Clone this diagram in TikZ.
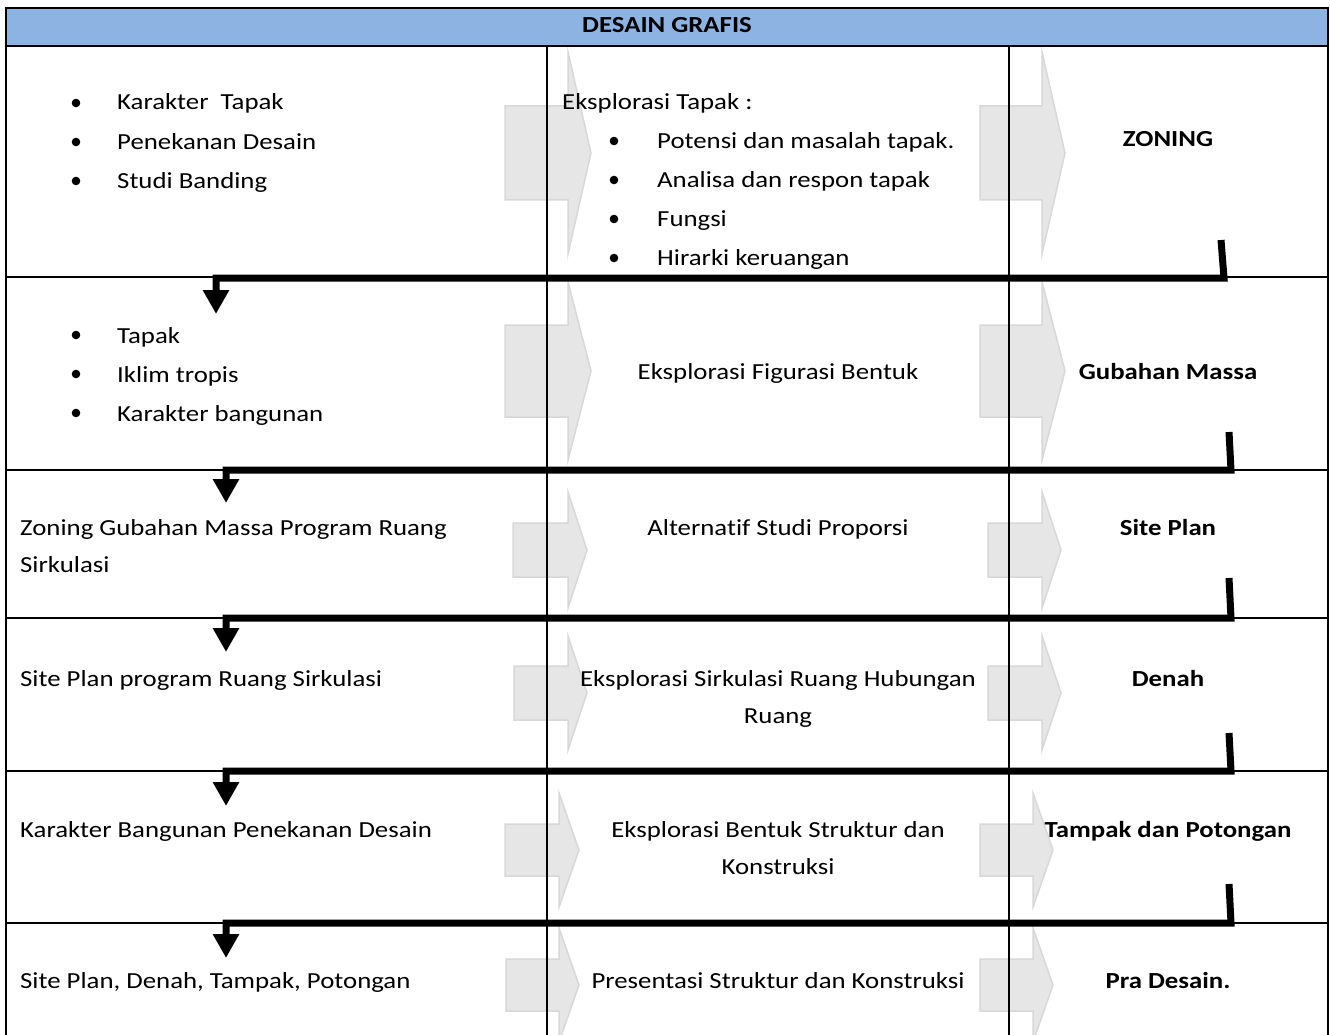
\documentclass[tikz,border=0pt]{standalone}
\usepackage{fontspec}
\setmainfont{Carlito}[FakeStretch=1.165,Ligatures={NoCommon}]
\usetikzlibrary{arrows.meta}
\definecolor{hdr}{HTML}{8DB3E2}
\definecolor{garfill}{HTML}{E6E6E6}
\definecolor{garline}{HTML}{D8D8D8}
% block arrow: #1 body left, #2 head base, #3 tip x, #4 centre y, #5 body half height, #6 head half height
\newcommand\garrow[6]{%
  \draw[garr] (#1,{#4-#5}) -- (#2,{#4-#5}) -- (#2,{#4-#6}) -- (#3,#4) -- (#2,{#4+#6}) -- (#2,{#4+#5}) -- (#1,{#4+#5}) -- cycle;}
\begin{document}
\begin{tikzpicture}[x=1pt,y=-1pt,
  garr/.style={fill=garfill,draw=garline,line width=1.5pt,line join=miter},
  grid/.style={line width=1.8pt,black},
  outer/.style={line width=2.4pt,black},
  conn/.style={line width=7pt,line join=miter,-{Triangle[width=25pt,length=24pt]}},
  txt/.style={inner sep=0pt,anchor=base west,font=\fontsize{23}{28}\selectfont},
  ctr/.style={inner sep=0pt,anchor=base,font=\fontsize{23}{28}\selectfont},
  ctrb/.style={inner sep=0pt,anchor=base,font=\fontsize{23}{28}\selectfont\bfseries},
  bul/.style={fill=black}]
\useasboundingbox (0,0) rectangle (1330,1035);
\fill[white] (0,0) rectangle (1330,1035);

% gray block arrows
\garrow{505}{568}{591}{153}{47}{101}
\garrow{980}{1042}{1065}{153}{47}{101}
\garrow{505}{568}{591}{371}{46}{89}
\garrow{980}{1042}{1065}{371}{46}{89}
\garrow{513}{568}{587}{550}{27}{58}
\garrow{988}{1042}{1061}{550}{27}{58}
\garrow{514}{568}{587}{693}{27}{57}
\garrow{988}{1042}{1061}{693}{27}{57}
\garrow{505}{559}{579}{850}{26}{57}
\garrow{980}{1033}{1053}{850}{26}{57}
\garrow{506}{559}{579}{985}{26}{57}
\garrow{980}{1033}{1053}{985}{26}{57}

% header
\fill[hdr] (6,8) rectangle (1328,46);
\node[ctrb] (head) at (667,33) {DESAIN GRAFIS};

% table lines
\draw[grid] (6,46) -- (1328,46);
\foreach \yy in {277,470,618,771,923} \draw[grid] (6,\yy) -- (1328,\yy);
\draw[grid] (547,46) -- (547,1035);
\draw[grid] (1009,46) -- (1009,1035);
\draw[outer] (6,1035) -- (6,8) -- (1328,8) -- (1328,1035);

% connectors
\coordinate (c1a) at (1221,240); \coordinate (c1b) at (1224,278);
\coordinate (c1c) at (216,278);  \coordinate (c1d) at (216,314);
\coordinate (c2a) at (1229,432); \coordinate (c2b) at (1231,470);
\coordinate (c2c) at (226,470);  \coordinate (c2d) at (226,503);
\coordinate (c3a) at (1229,578); \coordinate (c3b) at (1231,618);
\coordinate (c3c) at (226,618);  \coordinate (c3d) at (226,652);
\coordinate (c4a) at (1229,733); \coordinate (c4b) at (1231,771);
\coordinate (c4c) at (226,771);  \coordinate (c4d) at (226,806);
\coordinate (c5a) at (1229,884); \coordinate (c5b) at (1231,923);
\coordinate (c5c) at (226,923);  \coordinate (c5d) at (226,958);
\foreach \i in {1,...,5} \draw[conn] (c\i a) -- (c\i b) -- (c\i c) -- (c\i d);

% row 1
\fill[bul] (76,103) circle (4.3pt);
\fill[bul] (76,142) circle (4.3pt);
\fill[bul] (76,181) circle (4.3pt);
\node[txt] (r1a) at (117,110) {Karakter\ \ Tapak};
\node[txt] (r1b) at (117,150) {Penekanan Desain};
\node[txt] (r1c) at (117,189) {Studi Banding};
\node[txt] (r1d) at (562,110) {Eksplorasi Tapak :};
\fill[bul] (614,141) circle (4.3pt);
\fill[bul] (614,180) circle (4.3pt);
\fill[bul] (614,219) circle (4.3pt);
\fill[bul] (614,258) circle (4.3pt);
\node[txt] (r1e) at (657,149) {Potensi dan masalah tapak.};
\node[txt] (r1f) at (657,188) {Analisa dan respon tapak};
\node[txt] (r1g) at (657,226) {Fungsi};
\node[txt] (r1h) at (657,265) {Hirarki keruangan};
\node[ctrb] (r1i) at (1168,147) {ZONING};

% row 2
\fill[bul] (76,335) circle (4.3pt);
\fill[bul] (76,374) circle (4.3pt);
\fill[bul] (76,413) circle (4.3pt);
\node[txt] (r2a) at (117,343) {Tapak};
\node[txt] (r2b) at (117,382) {Iklim tropis};
\node[txt] (r2c) at (117,421) {Karakter bangunan};
\node[ctr] (r2d) at (778,379) {Eksplorasi Figurasi Bentuk};
\node[ctrb] (r2e) at (1168,379) {Gubahan Massa};

% row 3
\node[txt] (r3a) at (20,535) {Zoning Gubahan Massa Program Ruang};
\node[txt] (r3b) at (20,572) {Sirkulasi};
\node[ctr] (r3c) at (778,535) {Alternatif Studi Proporsi};
\node[ctrb] (r3d) at (1168,535) {Site Plan};

% row 4
\node[txt] (r4a) at (20,686) {Site Plan program Ruang Sirkulasi};
\node[ctr] (r4b) at (778,686) {Eksplorasi Sirkulasi Ruang Hubungan};
\node[ctr] (r4c) at (778,723) {Ruang};
\node[ctrb] (r4d) at (1168,686) {Denah};

% row 5
\node[txt] (r5a) at (20,837) {Karakter Bangunan Penekanan Desain};
\node[ctr] (r5b) at (778,837) {Eksplorasi Bentuk Struktur dan};
\node[ctr] (r5c) at (778,874) {Konstruksi};
\node[ctrb] (r5d) at (1168,837) {Tampak dan Potongan};

% row 6
\node[txt] (r6a) at (20,988) {Site Plan, Denah, Tampak, Potongan};
\node[ctr] (r6b) at (778,988) {Presentasi Struktur dan Konstruksi};
\node[ctrb] (r6c) at (1168,988) {Pra Desain.};
\end{tikzpicture}
\end{document}
